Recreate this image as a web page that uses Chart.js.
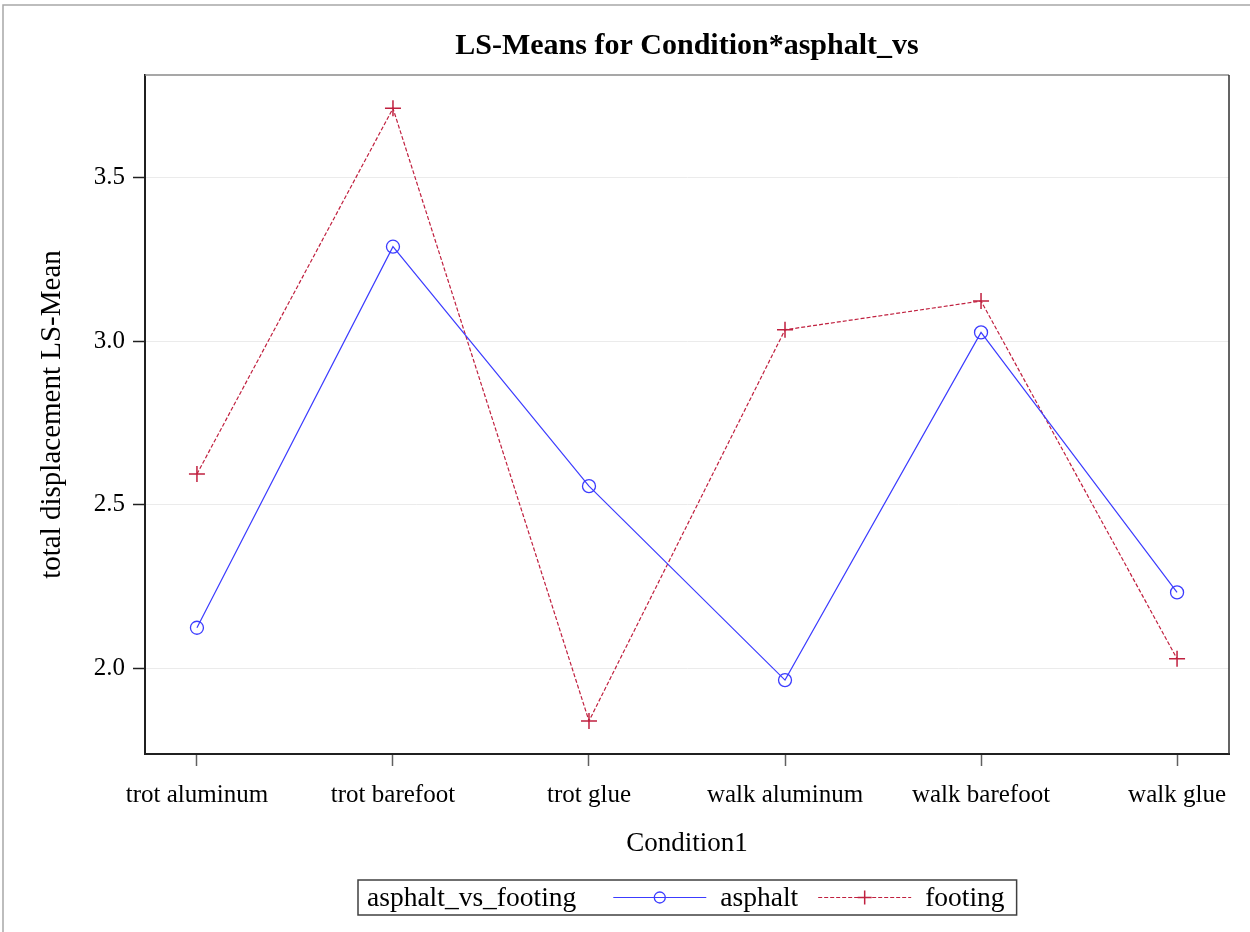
<!DOCTYPE html>
<html>
<head>
<meta charset="utf-8">
<title>LS-Means for Condition*asphalt_vs</title>
<script src="https://cdn.jsdelivr.net/npm/chart.js@4/dist/chart.umd.min.js"></script>
<style>
  html, body { margin: 0; padding: 0; background: #fff; }
  canvas { display: block; }
</style>
</head>
<body>
<canvas id="lsMeansChart" width="1250" height="932"></canvas>
<script>
const conditions = ['trot aluminum', 'trot barefoot', 'trot glue', 'walk aluminum', 'walk barefoot', 'walk glue'];
const asphaltMeans = [2.124, 3.289, 2.557, 1.964, 3.027, 2.232];
const footingMeans = [2.594, 3.712, 1.839, 3.035, 3.123, 2.029];
const yTicks = [2.0, 2.5, 3.0, 3.5];
const legendTitle = 'asphalt_vs_footing';

const serif = '"Liberation Serif", "Times New Roman", serif';
const blue = '#3c3cff';
const red = '#c0203f';

function toPoints(values) {
    return values.map((v, i) => ({ x: i, y: v }));
}

// white page, outer frame, and the top/right sides of the plot box
const framePlugin = {
    id: 'frame',
    beforeDraw(chart) {
        const ctx = chart.ctx;
        ctx.save();
        ctx.fillStyle = '#fff';
        ctx.fillRect(0, 0, chart.width, chart.height);
        ctx.strokeStyle = '#a8a8a8';
        ctx.lineWidth = 1.5;
        ctx.beginPath();
        ctx.moveTo(3, chart.height);
        ctx.lineTo(3, 5);
        ctx.lineTo(chart.width, 5);
        ctx.stroke();
        ctx.restore();
    },
    beforeDatasetsDraw(chart) {
        const { ctx, chartArea: a } = chart;
        ctx.save();
        ctx.lineWidth = 1.5;
        ctx.strokeStyle = '#8a8a8a';
        ctx.beginPath();
        ctx.moveTo(a.left, a.top);
        ctx.lineTo(a.right, a.top);
        ctx.stroke();
        ctx.strokeStyle = '#303030';
        ctx.beginPath();
        ctx.moveTo(a.right, a.top);
        ctx.lineTo(a.right, a.bottom);
        ctx.stroke();
        ctx.restore();
    }
};

// boxed legend with a group title on the left, one row, centred under the plot
const boxLegendPlugin = {
    id: 'boxLegend',
    afterDraw(chart, args, opts) {
        const ctx = chart.ctx;
        const a = chart.chartArea;
        const sample = 93;
        ctx.save();
        ctx.font = opts.fontSize + 'px ' + serif;
        ctx.textBaseline = 'middle';

        const sets = chart.data.datasets;
        let w = 9 + ctx.measureText(opts.title).width + 37;
        sets.forEach((ds, i) => {
            w += sample + 14 + ctx.measureText(ds.label).width;
            w += i < sets.length - 1 ? 20 : 12;
        });
        const left = Math.round((a.left + a.right) / 2 - w / 2);
        const top = opts.top, h = opts.height, cy = top + h / 2;

        ctx.strokeStyle = '#404040';
        ctx.lineWidth = 1.5;
        ctx.strokeRect(left, top, w, h);

        let x = left + 9;
        ctx.fillStyle = '#000';
        ctx.fillText(opts.title, x, cy + 1);
        x += ctx.measureText(opts.title).width + 37;

        sets.forEach((ds) => {
            ctx.save();
            ctx.strokeStyle = ds.borderColor;
            ctx.lineWidth = ds.borderWidth;
            ctx.setLineDash(ds.borderDash || []);
            ctx.beginPath();
            ctx.moveTo(x, cy);
            ctx.lineTo(x + sample, cy);
            ctx.stroke();
            ctx.setLineDash([]);
            ctx.strokeStyle = ds.pointBorderColor;
            ctx.fillStyle = 'rgba(0,0,0,0)';
            ctx.lineWidth = ds.pointBorderWidth;
            Chart.helpers.drawPoint(ctx, {
                pointStyle: ds.pointStyle,
                radius: opts.markerRadius[ds.pointStyle],
                borderWidth: ds.pointBorderWidth
            }, x + sample / 2, cy);
            ctx.restore();
            x += sample + 14;
            ctx.fillStyle = '#000';
            ctx.fillText(ds.label, x, cy + 1);
            x += ctx.measureText(ds.label).width + 20;
        });
        ctx.restore();
    }
};

const ctx = document.getElementById('lsMeansChart').getContext('2d');

new Chart(ctx, {
    type: 'line',
    data: {
        datasets: [{
            label: 'asphalt',
            data: toPoints(asphaltMeans),
            borderColor: blue,
            borderWidth: 1.2,
            pointStyle: 'circle',
            pointRadius: 6.5,
            pointBorderWidth: 1.3,
            pointBorderColor: blue,
            pointBackgroundColor: 'rgba(0,0,0,0)',
            tension: 0
        }, {
            label: 'footing',
            data: toPoints(footingMeans),
            borderColor: red,
            borderWidth: 1.2,
            borderDash: [4, 2],
            pointStyle: 'cross',
            pointRadius: 8,
            pointBorderWidth: 1.5,
            pointBorderColor: red,
            pointBackgroundColor: red,
            tension: 0
        }]
    },
    options: {
        responsive: false,
        animation: false,
        events: [],
        layout: { padding: { top: 0, right: 21, bottom: 0, left: 0 } },
        scales: {
            x: {
                type: 'linear',
                min: -0.265,
                max: 5.265,
                afterBuildTicks: (scale) => {
                    scale.ticks = conditions.map((c, i) => ({ value: i }));
                },
                afterFit: (scale) => { scale.height = 178; },
                ticks: {
                    callback: (value) => conditions[value],
                    color: '#000',
                    font: { family: serif, size: 25 },
                    padding: 14,
                    maxRotation: 0,
                    autoSkip: false
                },
                grid: {
                    drawOnChartArea: false,
                    drawTicks: true,
                    tickLength: 12,
                    tickColor: '#606060',
                    tickWidth: 1.5
                },
                border: { color: '#202020', width: 2 },
                title: {
                    display: true,
                    text: 'Condition1',
                    color: '#000',
                    font: { family: serif, size: 27 },
                    padding: { top: 0, bottom: 72 }
                }
            },
            y: {
                min: 1.738,
                max: 3.814,
                afterBuildTicks: (scale) => {
                    scale.ticks = yTicks.map(v => ({ value: v }));
                },
                afterFit: (scale) => { scale.width = 145; },
                ticks: {
                    callback: (value) => value.toFixed(1),
                    color: '#000',
                    font: { family: serif, size: 25 },
                    padding: 8
                },
                grid: {
                    color: '#ebebeb',
                    lineWidth: 1,
                    drawTicks: true,
                    tickLength: 12,
                    tickColor: '#202020',
                    tickWidth: 1.5
                },
                border: { color: '#202020', width: 2 },
                title: {
                    display: true,
                    text: 'total displacement LS-Mean',
                    color: '#000',
                    font: { family: serif, size: 29 },
                    padding: { top: 35, bottom: 0 }
                }
            }
        },
        plugins: {
            title: {
                display: true,
                fullSize: false,
                text: 'LS-Means for Condition*asphalt_vs',
                color: '#000',
                font: { family: serif, size: 30, weight: 'bold' },
                padding: { top: 28, bottom: 11 }
            },
            legend: { display: false },
            tooltip: { enabled: false },
            boxLegend: {
                title: legendTitle,
                fontSize: 27.5,
                top: 880,
                height: 35,
                markerRadius: { circle: 5.5, cross: 7 }
            }
        }
    },
    plugins: [framePlugin, boxLegendPlugin]
});
</script>
</body>
</html>
